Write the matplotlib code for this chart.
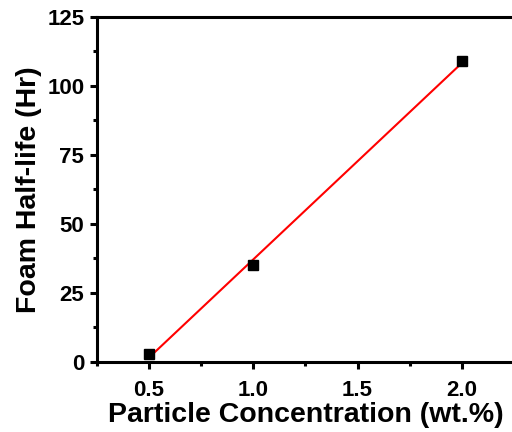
import matplotlib.pyplot as plt
import numpy as np
from matplotlib.ticker import MultipleLocator

# Foam half-life measured at each particle loading
concentration = [0.5, 1.0, 2.0]
half_life = [3, 35, 109]

plt.rcParams["font.family"] = ["Liberation Sans", "DejaVu Sans"]
plt.rcParams["font.weight"] = "bold"

fig = plt.figure(figsize=(5.12, 4.32), dpi=100)
ax = fig.add_axes([0.189, 0.162, 0.815, 0.799])

x = np.array(concentration)
y = np.array(half_life)
slope, intercept = np.polyfit(x, y, 1)
x_fit = np.array([x.min(), x.max()])

ax.plot(x, y, "s", color="black", markersize=7.5, zorder=3)
ax.plot(x_fit, slope * x_fit + intercept, color="red", linewidth=1.5, zorder=2)

ax.set_xlim(0.25, 2.25)
ax.set_ylim(0, 125)
ax.xaxis.set_major_locator(MultipleLocator(0.5))
ax.xaxis.set_minor_locator(MultipleLocator(0.25))
ax.yaxis.set_major_locator(MultipleLocator(25))
ax.yaxis.set_minor_locator(MultipleLocator(12.5))
ax.set_xticks([0.5, 1.0, 1.5, 2.0])
ax.set_xticklabels(["0.5", "1.0", "1.5", "2.0"])

for side in ("left", "bottom", "top"):
    ax.spines[side].set_linewidth(2.2)
ax.spines["right"].set_visible(False)
ax.tick_params(which="major", direction="out", length=5, width=2.2, labelsize=16)
ax.tick_params(axis="x", which="major", pad=8)
ax.tick_params(axis="y", which="major", pad=4)
ax.tick_params(which="minor", direction="out", length=3, width=2.2)
ax.tick_params(top=False, right=False, which="both")

ax.set_xlabel("Particle Concentration (wt.%)", fontsize=20.5, fontweight="bold", labelpad=1)
ax.set_ylabel("Foam Half-life (Hr)", fontsize=20.5, fontweight="bold", labelpad=4)

fig.savefig("out.png", dpi=100)
